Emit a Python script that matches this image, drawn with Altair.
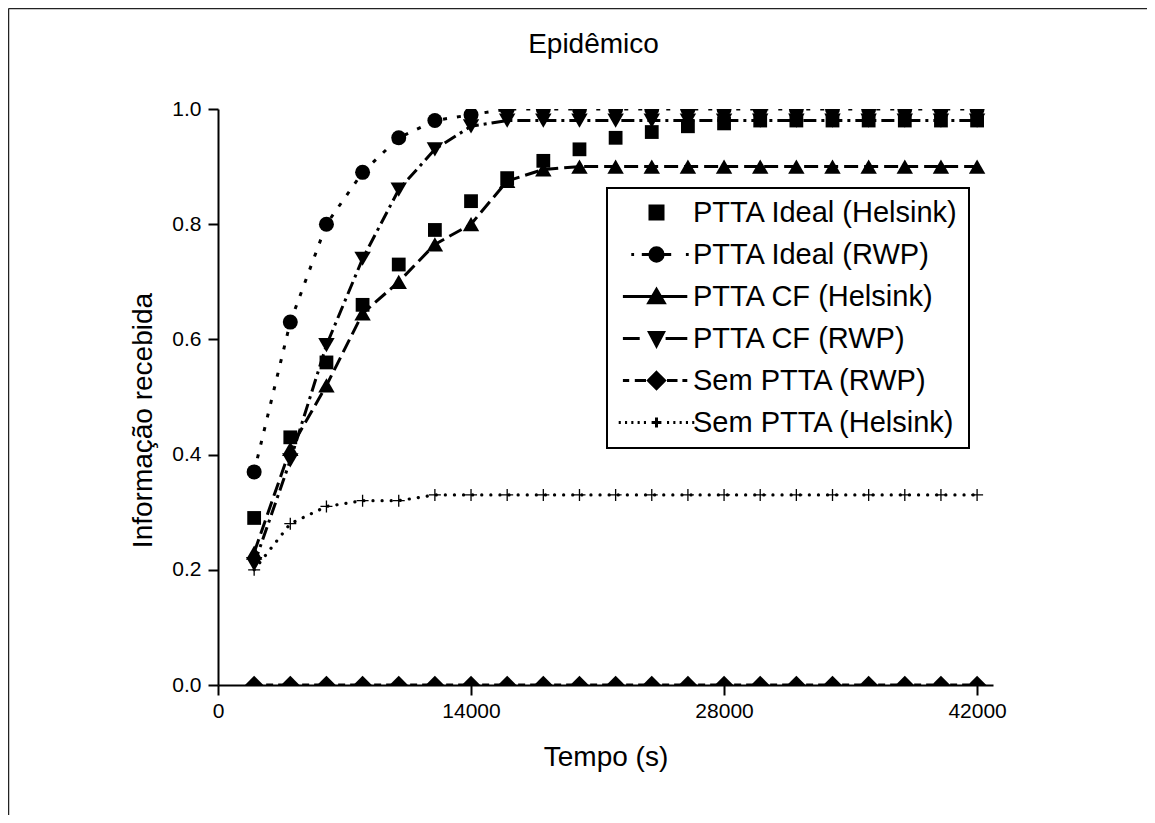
import altair as alt
import pandas as pd

# ---------------- data ----------------
time_s = [2000, 4000, 6000, 8000, 10000, 12000, 14000, 16000, 18000, 20000, 22000,
          24000, 26000, 28000, 30000, 32000, 34000, 36000, 38000, 40000, 42000]

series_names = ["PTTA Ideal (Helsink)", "PTTA Ideal (RWP)", "PTTA CF (Helsink)",
                "PTTA CF (RWP)", "Sem PTTA (RWP)", "Sem PTTA (Helsink)"]

ideal_helsink = [0.29, 0.43, 0.56, 0.66, 0.73, 0.79, 0.84, 0.88, 0.91, 0.93, 0.95,
                 0.96, 0.97, 0.975, 0.98, 0.98, 0.98, 0.98, 0.98, 0.98, 0.98]
ideal_rwp = [0.37, 0.63, 0.80, 0.89, 0.95, 0.98, 0.99, 1.0, 1.0, 1.0, 1.0,
             1.0, 1.0, 1.0, 1.0, 1.0, 1.0, 1.0, 1.0, 1.0, 1.0]
cf_helsink = [0.23, 0.41, 0.52, 0.645, 0.70, 0.765, 0.80, 0.875, 0.895, 0.90, 0.90,
              0.90, 0.90, 0.90, 0.90, 0.90, 0.90, 0.90, 0.90, 0.90, 0.90]
cf_rwp = [0.21, 0.39, 0.59, 0.74, 0.86, 0.93, 0.97, 0.98, 0.98, 0.98, 0.98,
          0.98, 0.98, 0.98, 0.98, 0.98, 0.98, 0.98, 0.98, 0.98, 0.98]
sem_rwp = [0.0, 0.0, 0.0, 0.0, 0.0, 0.0, 0.0, 0.0, 0.0, 0.0, 0.0,
           0.0, 0.0, 0.0, 0.0, 0.0, 0.0, 0.0, 0.0, 0.0, 0.0]
sem_helsink = [0.20, 0.28, 0.31, 0.32, 0.32, 0.33, 0.33, 0.33, 0.33, 0.33, 0.33,
               0.33, 0.33, 0.33, 0.33, 0.33, 0.33, 0.33, 0.33, 0.33, 0.33]

x_ticks = [0, 14000, 28000, 42000]
y_ticks = [0.0, 0.2, 0.4, 0.6, 0.8, 1.0]

all_values = [ideal_helsink, ideal_rwp, cf_helsink, cf_rwp, sem_rwp, sem_helsink]
rows = []
for name, vals in zip(series_names, all_values):
    for t, v in zip(time_s, vals):
        rows.append({"time": t, "value": v, "series": name})
df = pd.DataFrame(rows)

FONT = "Liberation Sans"

# ---------------- styles ----------------
PLUS = "M-1,0L1,0M0,-1L0,1"
styles = {
    "PTTA Ideal (Helsink)": dict(dash=None, shape="square", size=190, filled=True),
    "PTTA Ideal (RWP)": dict(dash=[4, 10], shape="circle", size=225, filled=True),
    "PTTA CF (Helsink)": dict(dash=[14, 6], shape="triangle-up", size=270, filled=True),
    "PTTA CF (RWP)": dict(dash=[13, 5, 3, 5], shape="triangle-down", size=270, filled=True),
    "Sem PTTA (RWP)": dict(dash=[7, 5], shape="diamond", size=340, filled=True),
    "Sem PTTA (Helsink)": dict(dash=[0.1, 9], shape=PLUS, size=144, filled=False),
}

x_enc = alt.X("time:Q",
              scale=alt.Scale(domain=[0, 42880], nice=False, zero=False),
              axis=alt.Axis(values=x_ticks, format="d", title="Tempo (s)",
                            labelFlush=False, labelPadding=5, titlePadding=22))
y_enc = alt.Y("value:Q",
              scale=alt.Scale(domain=[0, 1], nice=False),
              axis=alt.Axis(values=y_ticks, format=".1f", title="Informação recebida",
                            labelPadding=7, titlePadding=14, titleY=311))

base = alt.Chart(df).encode(x=x_enc, y=y_enc)

layers = []
for name in series_names:
    st = styles[name]
    sub = base.transform_filter(alt.datum.series == name)
    if st["dash"] is not None:
        if name == "Sem PTTA (Helsink)":
            layers.append(sub.mark_line(color="black", strokeWidth=3.2, strokeDash=st["dash"],
                                        strokeCap="round", clip=True))
        else:
            layers.append(sub.mark_line(color="black", strokeWidth=3, strokeDash=st["dash"],
                                        clip=True))
    if st["filled"]:
        layers.append(sub.mark_point(shape=st["shape"], size=st["size"], filled=True,
                                     color="black", opacity=1, clip=True))
    else:
        layers.append(sub.mark_point(shape=st["shape"], size=st["size"], filled=False,
                                     color="black", opacity=1, strokeWidth=1.3, clip=True))

# legend symbols: line segment + marker (unit = 7 px)
legend_paths = [
    "M-0.93,-0.93H0.93V0.93H-0.93Z",
    "M-3.6,0H-3.2M-2.1,0H-0.9M0.9,0H2.1M4.2,0H4.6"
    "M-0.95,0A0.95,0.95 0 1,1 0.95,0A0.95,0.95 0 1,1 -0.95,0Z",
    "M-4.8,0H4.4M0,-1.0L1.1,0.9L-1.1,0.9Z",
    "M-4.8,0H-2.4M1.3,0H4.4M-1.0,-0.85L1.0,-0.85L0,1.05Z",
    "M-4.8,0H-3.9M-3.1,0H-1.5M1.5,0H3.0M3.7,0H4.4M0,-1.15L1.15,0L0,1.15L-1.15,0Z",
    "M-5.4,0h0.3M-4.5,0h0.3M-3.6,0h0.3M-2.7,0h0.3M-1.8,0h0.3"
    "M1.5,0h0.3M2.4,0h0.3M3.3,0h0.3M4.2,0h0.3M5.1,0h0.3"
    "M-0.7,0H0.7M0,-0.7V0.7",
]

legend_layer = alt.Chart(df).transform_filter(alt.datum.value > 5).mark_point(
    filled=True, fill="black", stroke="black", strokeWidth=3, opacity=1
).encode(
    shape=alt.Shape("series:N",
                    scale=alt.Scale(domain=series_names, range=legend_paths),
                    legend=alt.Legend(title=None, orient="none", legendX=389, legendY=79,
                                      padding=10, strokeColor="black",
                                      labelFont=FONT, labelFontSize=29, labelColor="black",
                                      labelLimit=500, labelOffset=22, symbolOffset=25,
                                      symbolSize=196, symbolOpacity=1, symbolStrokeWidth=3,
                                      rowPadding=12))
)

# outer frame (top and left edges of the figure)
frame_data = alt.Data(values=[{"k": 1}])
frame_left = alt.Chart(frame_data).mark_rule(color="#222", strokeWidth=1.5, clip=False).encode(
    x=alt.value(-209.5), y=alt.value(-100.5), y2=alt.value(714))
frame_top = alt.Chart(frame_data).mark_rule(color="#222", strokeWidth=1.5, clip=False).encode(
    x=alt.value(-209.5), x2=alt.value(937), y=alt.value(-100.5))

chart = alt.layer(*layers, legend_layer, frame_left, frame_top).properties(
    width=775,
    height=576,
    autosize=alt.AutoSizeParams(type="none"),
    padding={"left": 210, "top": 101, "right": 154, "bottom": 130},
    title=alt.TitleParams("Epidêmico", font=FONT, fontSize=28, fontWeight="normal",
                          color="black", frame="group", anchor="middle", dx=-12, offset=-51),
).configure_view(
    stroke="transparent"
).configure_axis(
    grid=False,
    domainColor="black", domainWidth=2,
    tickColor="black", tickWidth=2, tickSize=10,
    labelFont=FONT, labelFontSize=21, labelColor="black",
    titleFont=FONT, titleFontSize=28, titleFontWeight="normal", titleColor="black",
).configure_legend(
    strokeWidth=2
)

chart.save("out.html", embed_options={"renderer": "svg", "actions": False})
